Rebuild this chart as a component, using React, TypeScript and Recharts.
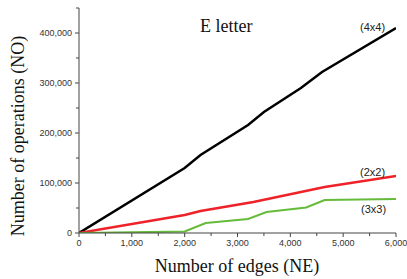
import React from 'react';
import { LineChart, Line, XAxis, YAxis } from 'recharts';

const edges = [0, 2000, 2300, 3200, 3500, 4200, 4600, 6000];
const ops4x4 = [0, 130000, 156000, 216000, 242000, 290000, 322000, 410000];

const edgesRed = [0, 2000, 2300, 3300, 4650, 6000];
const ops2x2 = [0, 36000, 44000, 62000, 92000, 114000];

const edgesGreen = [0, 2000, 2400, 3200, 3550, 4300, 4650, 6000];
const ops3x3 = [0, 3000, 20000, 28000, 42000, 51000, 66000, 68000];

const xTicks = [0, 500, 1000, 1500, 2000, 2500, 3000, 3500, 4000, 4500, 5000, 5500, 6000];
const yTicks = [0, 50000, 100000, 150000, 200000, 250000, 300000, 350000, 400000, 450000];

const black = edges.map((e, i) => ({ x: e, y: ops4x4[i] }));
const red = edgesRed.map((e, i) => ({ x: e, y: ops2x2[i] }));
const green = edgesGreen.map((e, i) => ({ x: e, y: ops3x3[i] }));

const fmt = (v: number) => v.toLocaleString('en-US');
const axisColor = '#444';
const tickFont = 'Liberation Sans, Arial, sans-serif';

const YTick = (props: any) => {
  const { x, y, payload } = props;
  const v = payload.value as number;
  const major = v % 100000 === 0 && v <= 400000;
  return (
    <g>
      <line x1={x} y1={y} x2={x - (major ? 4 : 3)} y2={y} stroke={axisColor} strokeWidth={1} />
      {major && (
        <text x={x - 7} y={y} dy={3} textAnchor="end" fontSize={9} fill="#333" fontFamily={tickFont}>
          {fmt(v)}
        </text>
      )}
    </g>
  );
};

const XTick = (props: any) => {
  const { x, y, payload } = props;
  const v = payload.value as number;
  const major = v % 1000 === 0;
  return (
    <g>
      <line x1={x} y1={y} x2={x} y2={y + (major ? 4 : 3)} stroke={axisColor} strokeWidth={1} />
      {major && (
        <text x={x} y={y + 13} textAnchor="middle" fontSize={9} fill="#333" fontFamily={tickFont}>
          {fmt(v)}
        </text>
      )}
    </g>
  );
};

const serif = 'Liberation Serif, Times New Roman, serif';
const ann: React.CSSProperties = {
  position: 'absolute',
  fontFamily: tickFont,
  fontSize: 11,
  color: '#222',
  lineHeight: '12px',
  whiteSpace: 'nowrap',
};

export default function App() {
  return (
    <div style={{ position: 'absolute', left: 0, top: 0, width: 407, height: 279, background: '#fff', overflow: 'hidden' }}>
      <LineChart width={407} height={279} margin={{ top: 8, right: 11, left: 0, bottom: 0 }}>
        <XAxis
          type="number"
          dataKey="x"
          domain={[0, 6000]}
          ticks={xTicks}
          interval={0}
          tickSize={0}
          tickMargin={0}
          tickLine={false}
          tick={<XTick />}
          stroke={axisColor}
          height={46}
          allowDataOverflow
        />
        <YAxis
          type="number"
          dataKey="y"
          domain={[0, 450000]}
          ticks={yTicks}
          interval={0}
          tickSize={0}
          tickMargin={0}
          tickLine={false}
          tick={<YTick />}
          stroke={axisColor}
          width={79}
          allowDataOverflow
        />
        <Line data={black} dataKey="y" stroke="#000" strokeWidth={2.5} dot={false} isAnimationActive={false} type="linear" />
        <Line data={red} dataKey="y" stroke="#ee2228" strokeWidth={2.5} dot={false} isAnimationActive={false} type="linear" />
        <Line data={green} dataKey="y" stroke="#66bb3a" strokeWidth={2.2} dot={false} isAnimationActive={false} type="linear" />
      </LineChart>
      <div style={{ position: 'absolute', left: 200, top: 16, fontFamily: serif, fontSize: 18, lineHeight: '20px', color: '#111', whiteSpace: 'nowrap' }}>E letter</div>
      <div style={{ ...ann, left: 360, top: 21 }}>(4x4)</div>
      <div style={{ ...ann, left: 360, top: 166 }}>(2x2)</div>
      <div style={{ ...ann, left: 361, top: 203 }}>(3x3)</div>
      <div style={{ position: 'absolute', left: 237, top: 266, transform: 'translate(-50%, -50%)', fontFamily: serif, fontSize: 18, color: '#111', whiteSpace: 'nowrap' }}>Number of edges (NE)</div>
      <div style={{ position: 'absolute', left: 18, top: 136, transform: 'translate(-50%, -50%) rotate(-90deg)', fontFamily: serif, fontSize: 18, color: '#111', whiteSpace: 'nowrap' }}>Number of operations (NO)</div>
    </div>
  );
}
